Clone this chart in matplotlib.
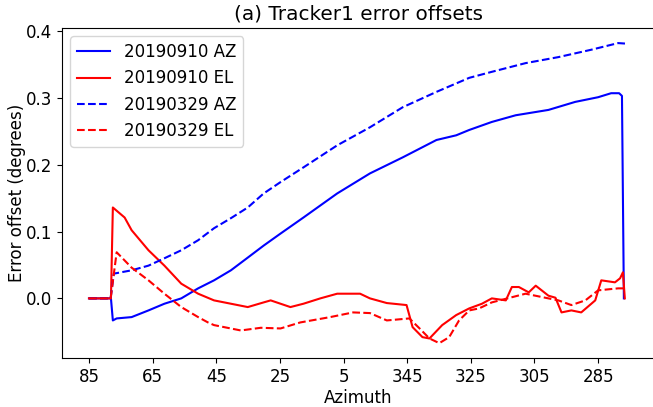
import matplotlib
matplotlib.use("Agg")
import matplotlib.pyplot as plt
import numpy as np

# azimuth in degrees (wraps through 0/360), offsets in degrees
az_0910_az = [85, 78.1, 77.5, 76.3, 71.6, 66.3, 61.3, 56.0, 50.7, 45.7, 40.4, 35.1,
              30.1, 24.8, 17.6, 7.0, 356.7, 346.4, 335.8, 329.6, 325.5, 318.4,
              310.9, 300.6, 292.2, 285.0, 280.9, 278.4, 277.5, 276.9]
off_0910_az = [0.0, 0.0, -0.033, -0.030, -0.028, -0.018, -0.008, 0.0, 0.015, 0.027,
               0.042, 0.061, 0.079, 0.097, 0.121, 0.157, 0.187, 0.211, 0.237, 0.244,
               0.252, 0.264, 0.274, 0.282, 0.294, 0.301, 0.307, 0.307, 0.303, 0.0]

az_0910_el = [85, 78.1, 77.5, 73.8, 71.6, 66.3, 61.3, 56.0, 50.7, 45.7, 40.4, 35.1,
              30.1, 27.9, 24.8, 21.7, 17.6, 12.3, 7.0, 359.8, 356.7, 351.4, 345.2,
              343.3, 340.2, 338.0, 334.0, 329.6, 325.5, 321.5, 318.4, 314.0, 312.1,
              309.9, 306.8, 304.6, 300.6, 298.4, 296.5, 293.4, 290.3, 285.9, 284.0,
              279.7, 278.1, 277.2, 276.6]
off_0910_el = [0.0, 0.0, 0.136, 0.121, 0.102, 0.072, 0.049, 0.022, 0.007, -0.003,
               -0.008, -0.013, -0.006, -0.003, -0.008, -0.013, -0.008, 0.0, 0.007,
               0.007, 0.0, -0.007, -0.010, -0.043, -0.058, -0.060, -0.040, -0.025,
               -0.015, -0.008, 0.0, -0.003, 0.017, 0.017, 0.009, 0.019, 0.004, 0.001,
               -0.021, -0.018, -0.021, -0.003, 0.027, 0.024, 0.030, 0.039, 0.0]

az_0329_az = [85, 78.2, 77.2, 71.6, 66.3, 61.3, 56.0, 50.7, 45.7, 40.4, 35.1, 30.1,
              24.8, 17.6, 7.0, 356.7, 346.4, 335.8, 325.5, 318.4, 307.8, 297.5,
              287.2, 278.7, 275.6]
off_0329_az = [0.0, 0.0, 0.037, 0.042, 0.049, 0.060, 0.072, 0.087, 0.105, 0.120,
               0.136, 0.157, 0.174, 0.196, 0.229, 0.256, 0.286, 0.309, 0.330, 0.339,
               0.352, 0.361, 0.372, 0.382, 0.381]

az_0329_el = [85, 78.2, 76.3, 71.6, 66.3, 61.3, 56.0, 50.7, 47.6, 45.7, 37.3, 31.0,
              24.8, 18.6, 9.2, 2.0, 356.7, 351.4, 344.3, 341.1, 338.0, 334.9, 331.8,
              328.7, 325.5, 322.4, 318.4, 307.8, 300.6, 297.5, 293.4, 289.0, 285.0,
              278.7, 276.6]
off_0329_el = [0.0, 0.0, 0.069, 0.046, 0.027, 0.007, -0.013, -0.028, -0.036, -0.040,
               -0.048, -0.044, -0.045, -0.036, -0.028, -0.021, -0.022, -0.033, -0.030,
               -0.045, -0.060, -0.067, -0.058, -0.033, -0.018, -0.015, -0.006, 0.007,
               0.0, -0.003, -0.010, -0.003, 0.012, 0.015, 0.015]

tick_labels = [85, 65, 45, 25, 5, 345, 325, 305, 285]


def unwrap(az):
    # put azimuths past north on the negative side so the axis runs continuously
    az = np.asarray(az, dtype=float)
    return np.where(az > 180, az - 360, az)


plt.rcParams['font.size'] = 12
fig = plt.figure(figsize=(6.53, 4.07), dpi=100)
ax = fig.add_axes([0.095, 0.12, 0.908, 0.811])

ax.plot(unwrap(az_0910_az), off_0910_az, color='b', lw=1.5, label='20190910 AZ')
ax.plot(unwrap(az_0910_el), off_0910_el, color='r', lw=1.5, label='20190910 EL')
ax.plot(unwrap(az_0329_az), off_0329_az, color='b', lw=1.5, ls='--', label='20190329 AZ')
ax.plot(unwrap(az_0329_el), off_0329_el, color='r', lw=1.5, ls='--', label='20190329 EL')

ax.set_xticks(unwrap(tick_labels))
ax.set_xticklabels([str(t) for t in tick_labels])
ax.invert_xaxis()
ax.set_yticks([0.0, 0.1, 0.2, 0.3, 0.4])

ax.set_title('(a) Tracker1 error offsets')
ax.set_xlabel('Azimuth', labelpad=2)
ax.set_ylabel('Error offset (degrees)', labelpad=0)
ax.legend(loc='upper left')

fig.savefig('out.png', dpi=100)
